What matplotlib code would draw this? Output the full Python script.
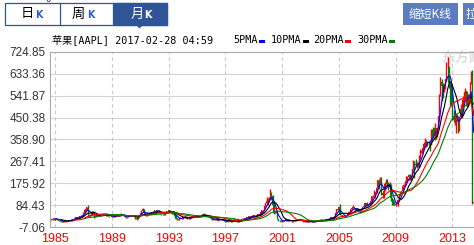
import matplotlib.pyplot as plt
from matplotlib.patches import Rectangle, Polygon
from matplotlib.lines import Line2D
import pandas as pd

W, H = 474, 245

# monthly candles (AAPL, unadjusted), Sep 1984 .. Jul 2014
opens = [
    27, 26, 24, 25,
    29, 30, 26, 22, 20, 19, 17, 15, 15, 16, 17, 20,
    22, 23, 19, 24, 27, 26, 35, 28, 35, 35, 38, 40,
    41, 53, 66, 70, 77, 44, 42, 45, 55, 55, 36, 38,
    42, 39, 42, 41, 41, 43, 46, 43, 42, 43, 38, 40,
    42, 36, 37, 35, 39, 44, 41, 43, 44, 45, 44, 42,
    35, 34, 34, 40, 40, 42, 41, 42, 36, 29, 27, 36,
    43, 50, 60, 68, 53, 45, 42, 50, 52, 48, 50, 54,
    56, 64, 62, 58, 60, 58, 48, 47, 46, 47, 52, 60,
    59, 63, 56, 54, 48, 60, 42, 28, 25, 25, 32, 31,
    29, 34, 36, 36, 32, 27, 28, 33, 35, 35, 41, 38,
    39, 40, 38, 36, 39, 43, 46, 44, 43, 37, 36, 39,
    32, 27, 24, 24, 24, 25, 21, 25, 22, 22, 23, 23,
    21, 16, 15, 18, 18, 17, 15, 22, 20, 21, 17, 16,
    13, 18, 21, 27, 28, 28, 29, 33, 33, 38, 38, 37,
    41, 41, 37, 36, 47, 45, 46, 56, 62, 65, 79, 92,
    103, 103, 114, 136, 124, 84, 51, 51, 61, 26, 20, 17,
    15, 21, 18, 22, 26, 20, 21, 19, 18, 17, 17, 21,
    22, 24, 22, 24, 24, 23, 18, 15, 15, 15, 16, 16,
    14, 14, 15, 14, 14, 18, 19, 21, 23, 21, 23, 21,
    21, 23, 24, 27, 26, 28, 33, 32, 35, 39, 53, 67,
    64, 77, 45, 42, 36, 40, 37, 43, 47, 54, 57, 68,
    72, 76, 69, 63, 71, 60, 57, 68, 68, 77, 81, 92,
    85, 86, 85, 93, 100, 122, 122, 132, 139, 154, 190, 183,
    198, 135, 125, 143, 174, 188, 167, 159, 169, 113, 107, 93,
    85, 90, 89, 105, 126, 136, 142, 163, 168, 185, 189, 200,
    211, 192, 204, 235, 261, 256, 251, 257, 243, 284, 301, 311,
    323, 340, 353, 348, 350, 347, 336, 390, 384, 381, 405, 382,
    405, 456, 542, 600, 583, 577, 584, 610, 665, 667, 596, 585,
    532, 456, 441, 443, 443, 450, 396, 452, 487, 477, 523, 556,
    561, 500, 527, 537, 590, 633, 93,
]
highs = [
    29, 28, 27, 30,
    31, 31, 27, 23, 21, 19, 18, 16, 16, 18, 20, 22,
    24, 23, 25, 28, 29, 36, 36, 36, 37, 39, 42, 43,
    55, 68, 72, 78, 84, 45, 48, 59, 58, 57, 42, 45,
    44, 43, 44, 43, 44, 47, 48, 45, 45, 44, 41, 43,
    42, 39, 38, 40, 45, 46, 44, 46, 50, 47, 46, 43,
    37, 36, 41, 42, 43, 45, 44, 43, 37, 31, 37, 44,
    53, 62, 73, 70, 54, 47, 51, 54, 53, 52, 56, 58,
    66, 66, 64, 61, 62, 59, 49, 48, 48, 53, 61, 61,
    65, 64, 58, 55, 60, 61, 43, 30, 27, 33, 33, 32,
    35, 38, 39, 37, 33, 29, 34, 36, 36, 42, 42, 40,
    42, 41, 39, 40, 44, 48, 50, 46, 44, 39, 40, 40,
    34, 29, 26, 25, 27, 26, 26, 26, 24, 25, 25, 24,
    22, 17, 20, 19, 19, 18, 23, 29, 23, 23, 19, 17,
    19, 22, 28, 29, 29, 30, 36, 35, 39, 39, 40, 42,
    42, 41, 38, 48, 49, 47, 58, 64, 65, 81, 95, 118,
    113, 119, 150, 139, 126, 103, 60, 62, 64, 27, 22, 18,
    22, 22, 24, 27, 27, 25, 25, 20, 19, 20, 22, 23,
    24, 25, 25, 26, 26, 24, 18, 16, 16, 17, 17, 17,
    15, 16, 15, 15, 19, 20, 22, 24, 23, 25, 24, 22,
    24, 25, 28, 28, 29, 34, 34, 35, 39, 53, 68, 68,
    78, 90, 45, 44, 40, 41, 44, 47, 54, 58, 69, 75,
    86, 76, 70, 72, 71, 63, 68, 69, 77, 81, 92, 93,
    98, 91, 96, 101, 122, 127, 149, 140, 155, 190, 192, 203,
    200, 138, 154, 181, 192, 193, 180, 180, 174, 116, 112, 103,
    97, 101, 109, 126, 138, 145, 165, 173, 187, 205, 208, 213,
    215, 205, 237, 272, 271, 279, 265, 265, 293, 320, 318, 326,
    348, 364, 355, 353, 353, 348, 404, 404, 413, 426, 405, 406,
    458, 548, 621, 610, 596, 589, 611, 681, 705, 667, 599, 595,
    549, 484, 469, 444, 464, 457, 457, 508, 507, 539, 558, 575,
    563, 548, 549, 600, 645, 651, 99,
]
lows = [
    25, 23, 23, 24,
    24, 25, 21, 19, 18, 15, 14, 14, 14, 15, 17, 19,
    21, 18, 19, 23, 25, 25, 27, 27, 32, 33, 36, 38,
    40, 52, 62, 66, 40, 39, 40, 44, 50, 32, 34, 36,
    38, 38, 40, 39, 40, 42, 42, 41, 40, 37, 36, 39,
    35, 35, 34, 34, 38, 40, 39, 41, 43, 42, 41, 33,
    31, 32, 33, 38, 39, 40, 39, 35, 28, 24, 26, 35,
    42, 49, 58, 52, 45, 41, 41, 48, 47, 46, 49, 52,
    55, 60, 57, 56, 57, 47, 45, 45, 44, 45, 51, 57,
    57, 55, 53, 47, 47, 41, 27, 24, 23, 24, 29, 28,
    28, 33, 34, 31, 26, 25, 27, 32, 33, 34, 37, 36,
    37, 37, 34, 35, 38, 42, 43, 42, 36, 34, 35, 31,
    25, 23, 23, 23, 23, 21, 20, 21, 21, 21, 22, 20,
    15, 14, 14, 16, 16, 14, 13, 19, 19, 16, 15, 13,
    13, 17, 20, 25, 26, 27, 29, 30, 32, 33, 35, 36,
    36, 34, 33, 34, 42, 39, 44, 53, 57, 62, 77, 89,
    86, 98, 112, 104, 81, 47, 50, 50, 25, 17, 16, 14,
    14, 18, 17, 18, 19, 19, 18, 17, 15, 15, 17, 20,
    20, 21, 21, 22, 23, 16, 14, 14, 14, 13, 15, 14,
    14, 14, 14, 13, 14, 17, 18, 20, 20, 20, 20, 20,
    21, 22, 24, 25, 25, 28, 30, 31, 34, 38, 50, 62,
    63, 43, 40, 34, 35, 36, 36, 42, 46, 47, 57, 67,
    71, 67, 58, 63, 59, 55, 50, 63, 66, 75, 78, 81,
    82, 82, 84, 89, 99, 117, 121, 116, 137, 155, 150, 178,
    126, 114, 115, 143, 172, 164, 147, 158, 100, 85, 83, 84,
    79, 88, 82, 103, 121, 134, 136, 159, 164, 183, 181, 189,
    190, 190, 204, 230, 199, 249, 239, 242, 243, 277, 299, 309,
    322, 337, 326, 332, 334, 310, 337, 353, 370, 355, 363, 370,
    404, 455, 542, 522, 531, 559, 570, 603, 656, 575, 505, 501,
    439, 430, 419, 385, 438, 385, 395, 448, 450, 480, 516, 530,
    494, 499, 519, 515, 589, 89, 92,
]
closes = [
    26, 24, 25, 29,
    30, 26, 22, 20, 19, 17, 15, 15, 16, 17, 20, 22,
    23, 19, 24, 27, 26, 35, 28, 35, 35, 38, 40, 41,
    53, 66, 70, 77, 44, 42, 45, 55, 55, 36, 38, 42,
    39, 42, 41, 41, 43, 46, 43, 42, 43, 38, 40, 42,
    36, 37, 35, 39, 44, 41, 43, 44, 45, 44, 42, 35,
    34, 34, 40, 40, 42, 41, 42, 36, 29, 27, 36, 43,
    50, 60, 68, 53, 45, 42, 50, 52, 48, 50, 54, 56,
    64, 62, 58, 60, 58, 48, 47, 46, 47, 52, 60, 59,
    63, 56, 54, 48, 60, 42, 28, 25, 25, 32, 31, 29,
    34, 36, 36, 32, 27, 28, 33, 35, 35, 41, 38, 39,
    40, 38, 36, 39, 43, 46, 44, 43, 37, 36, 39, 32,
    27, 24, 24, 24, 25, 21, 25, 22, 22, 23, 23, 21,
    16, 15, 18, 18, 17, 15, 22, 20, 21, 17, 16, 13,
    18, 21, 27, 28, 28, 29, 33, 33, 38, 38, 37, 41,
    41, 37, 36, 47, 45, 46, 56, 62, 65, 79, 92, 103,
    103, 114, 136, 124, 84, 52, 51, 61, 26, 20, 17, 15,
    21, 18, 22, 26, 20, 21, 19, 18, 17, 17, 21, 22,
    24, 22, 24, 24, 23, 18, 15, 15, 15, 16, 16, 14,
    14, 15, 14, 14, 18, 19, 21, 23, 21, 23, 21, 21,
    23, 24, 27, 26, 28, 33, 32, 35, 39, 53, 67, 64,
    77, 45, 42, 36, 40, 37, 43, 47, 54, 57, 68, 72,
    76, 69, 63, 71, 60, 57, 68, 68, 77, 81, 92, 85,
    86, 85, 93, 100, 122, 122, 132, 139, 154, 190, 183, 198,
    135, 125, 143, 174, 188, 167, 159, 169, 113, 107, 93, 85,
    90, 89, 105, 126, 136, 142, 163, 168, 185, 189, 200, 211,
    192, 204, 235, 261, 256, 251, 257, 243, 284, 301, 311, 323,
    340, 353, 348, 350, 347, 336, 390, 384, 381, 405, 382, 405,
    456, 542, 600, 583, 577, 584, 610, 665, 667, 596, 585, 532,
    456, 441, 443, 443, 450, 396, 452, 487, 477, 523, 556, 561,
    500, 527, 537, 590, 633, 92, 96,
]

y_ticks = [-7.06, 84.43, 175.92, 267.41, 358.90, 450.38, 541.87, 633.36, 724.85]
year_labels = ["1985", "1989", "1993", "1997", "2001", "2005", "2009", "2013"]
ma_names = ["5PMA", "10PMA", "20PMA", "30PMA"]
ma_periods = [5, 10, 20, 30]
ma_colors = ["#0000ff", "#000000", "#ff0000", "#008000"]

UP = "#ff0000"
DOWN = "#008000"
NAVY = "#2f5596"
BTN = "#5b7cc0"


def fx(x):
    return x / W


def fy(y):
    return 1 - y / H


def box(fig, x0, y0, x1, y1, **kw):
    fig.add_artist(Rectangle((fx(x0), fy(y1)), (x1 - x0) / W, (y1 - y0) / H,
                             transform=fig.transFigure, **kw))


df = pd.DataFrame({"open": opens, "high": highs, "low": lows, "close": closes})
df["month"] = pd.date_range("1984-09-01", periods=len(df), freq="MS")
x = range(len(df))

fig = plt.figure(figsize=(W / 100, H / 100), dpi=100)
fig.patch.set_facecolor("white")

# axes: 1 month = 1.1825 px, Jan 1985 at x=55 px, runs past the right edge
ppm = 1.1825
xmin, xmax = -0.6, 365.0
left_px = 55 - (4 - xmin) * ppm
ax = fig.add_axes([left_px / W, 18 / H, (xmax - xmin) * ppm / W, 175 / H])
ax.set_xlim(xmin, xmax)
ax.set_ylim(y_ticks[0], y_ticks[-1])

for side in ["top", "left", "bottom"]:
    ax.spines[side].set_color("#a8a8a8")
    ax.spines[side].set_linewidth(0.8)
ax.spines["right"].set_visible(False)

# grid
for v in y_ticks[1:-1]:
    ax.axhline(v, color="#d4d4d4", lw=0.8, zorder=0)
year_pos = [df.index[df["month"] == pd.Timestamp(y + "-01-01")][0] for y in year_labels]
for p in year_pos:
    ax.axvline(p, color="#c8c8c8", lw=0.8, dashes=(3, 3), zorder=0)

ax.set_yticks(y_ticks)
ax.set_yticklabels(["%.2f" % v for v in y_ticks], fontsize=8.5,
                   family="Liberation Sans", color="#333333")
ax.set_xticks(year_pos)
ax.set_xticklabels(year_labels, fontsize=9, family="Liberation Sans", color="#ff0000")
ax.tick_params(length=0, pad=3)
ax.tick_params(axis="x", pad=4)

# watermark
ax.text(fx(441), fy(58), "东方财富", transform=fig.transFigure, fontsize=10,
        fontweight="bold", color="#dedede", family="Noto Sans CJK SC",
        va="center", ha="left", zorder=0.5)

# candles
colors = [UP if c >= o else DOWN for o, c in zip(df["open"], df["close"])]
ax.vlines(x, df["low"], df["high"], colors=colors, lw=1.0, zorder=2)
body_lo = df[["open", "close"]].min(axis=1)
body_h = (df["close"] - df["open"]).abs().clip(lower=1)
ax.bar(x, body_h, bottom=body_lo, width=0.85, color=colors, lw=0, zorder=2)

# moving averages
for n, c in zip(ma_periods, ma_colors):
    ax.plot(x, df["close"].rolling(n).mean(), color=c, lw=0.8, zorder=3)

# title + legend
mono = ["DejaVu Sans Mono", "Noto Sans CJK SC"]
fig.text(fx(52), fy(40), "苹果[AAPL] 2017-02-28 04:59", family=mono,
         fontsize=7.3, va="center", ha="left", color="#000000")
leg_x = [233, 271, 313, 357]
for name, c, lx in zip(ma_names, ma_colors, leg_x):
    fig.text(fx(lx), fy(40), name, family=mono, fontsize=7.3,
             va="center", ha="left", color="#000000")
    sx = lx + len(name) * 6 + 2
    box(fig, sx, 40, sx + 6, 43, facecolor=c, edgecolor="none")

# period tabs
box(fig, 5, 3, 167, 25, facecolor="white", edgecolor=NAVY, lw=0.9)
box(fig, 113, 3, 167, 25, facecolor=NAVY, edgecolor=NAVY, lw=0.9)
fig.add_artist(Line2D([fx(59.5), fx(59.5)], [fy(3), fy(25)], color=NAVY,
                      lw=0.9, transform=fig.transFigure))
fig.add_artist(Polygon([(fx(136), fy(25)), (fx(143), fy(25)), (fx(139.5), fy(28.5))],
                       closed=True, facecolor=NAVY, edgecolor="none",
                       transform=fig.transFigure))
tabs = [("日", 27, 38.5, "#000000", "#2a62c9"),
        ("周", 78, 91, "#000000", "#2a62c9"),
        ("月", 137.5, 148, "white", "white")]
for ch, cx, kx, c1, c2 in tabs:
    fig.text(fx(cx), fy(14), ch, family="Noto Sans CJK SC", fontsize=9.5,
             ha="center", va="center", color=c1)
    fig.text(fx(kx), fy(15), "K", family="DejaVu Sans", fontsize=7,
             fontweight="bold", ha="center", va="center", color=c2)

# buttons
box(fig, 403, 3, 458, 25, facecolor=BTN, edgecolor="none")
fig.text(fx(430.5), fy(14), "缩短K线", family="Noto Sans CJK SC", fontsize=8.5,
         ha="center", va="center", color="white")
box(fig, 463, 3, 490, 25, facecolor=BTN, edgecolor="none")
fig.text(fx(466), fy(14), "拉长K线", family="Noto Sans CJK SC", fontsize=8.5,
         ha="left", va="center", color="white")

# clipped label peeking in at the top
fig.text(fx(48), fy(-1), "0", fontsize=7, family="Liberation Sans",
         ha="center", va="center", color="#333333")

fig.savefig("out.png", dpi=100)
